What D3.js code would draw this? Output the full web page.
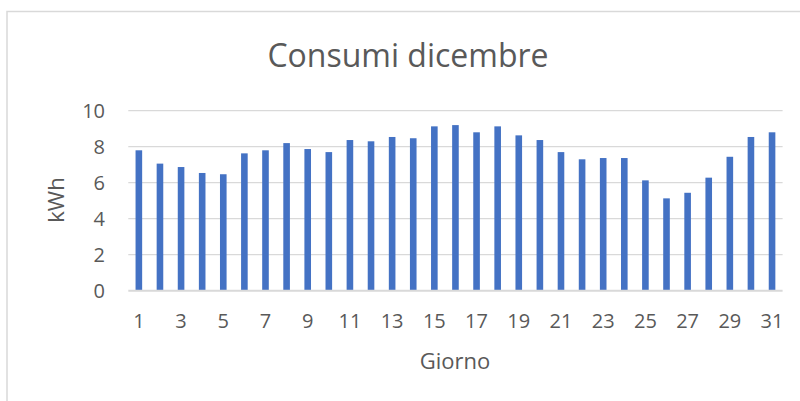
<!DOCTYPE html>
<html>
<head>
<meta charset="utf-8">
<script src="https://cdn.jsdelivr.net/npm/d3@7"></script>
<style>
  html, body { margin: 0; padding: 0; background: #ffffff; }
  svg { display: block; }
  text { font-family: "Open Sans", sans-serif; fill: #595959; }
</style>
</head>
<body>
<svg id="chart" width="800" height="401"></svg>
<script>
const days = d3.range(1, 32);
const values = [7.8, 7.06, 6.87, 6.54, 6.47, 7.63, 7.8, 8.2, 7.87, 7.7,
                8.37, 8.3, 8.54, 8.47, 9.13, 9.2, 8.8, 9.13, 8.63, 8.37,
                7.7, 7.3, 7.37, 7.37, 6.13, 5.13, 5.44, 6.28, 7.44, 8.54, 8.8];
const yTicks = [0, 2, 4, 6, 8, 10];
const xTickLabels = days.filter(d => d % 2 === 1);
const title = "Consumi dicembre";
const xTitle = "Giorno";
const yTitle = "kWh";

const svg = d3.select("#chart");

// chart area border
svg.append("rect")
  .attr("x", 7).attr("y", 11.5)
  .attr("width", 810).attr("height", 410)
  .attr("fill", "none")
  .attr("stroke", "#d9d9d9")
  .attr("stroke-width", 1.5);

const plotLeft = 128.3, plotRight = 782.6, plotTop = 110.7, plotBottom = 290.7;

const x = d3.scaleBand()
  .domain(days)
  .range([plotLeft, plotRight])
  .paddingInner(0.687)
  .paddingOuter(0.687 / 2);

const y = d3.scaleLinear().domain([0, 10]).range([plotBottom, plotTop]);

// gridlines
svg.append("g")
  .selectAll("line")
  .data(yTicks.filter(t => t > 0))
  .join("line")
  .attr("x1", plotLeft).attr("x2", plotRight)
  .attr("y1", d => y(d)).attr("y2", d => y(d))
  .attr("stroke", "#d9d9d9")
  .attr("stroke-width", 1.2);

// bars
svg.append("g")
  .selectAll("rect")
  .data(values)
  .join("rect")
  .attr("x", (d, i) => x(days[i]))
  .attr("width", x.bandwidth())
  .attr("y", d => y(d))
  .attr("height", d => y(0) - y(d))
  .attr("fill", "#4472c4");

// x axis line
svg.append("line")
  .attr("x1", plotLeft).attr("x2", plotRight)
  .attr("y1", y(0)).attr("y2", y(0))
  .attr("stroke", "#d9d9d9")
  .attr("stroke-width", 2);

// y tick labels
svg.append("g")
  .selectAll("text")
  .data(yTicks)
  .join("text")
  .attr("x", 105)
  .attr("y", d => y(d))
  .attr("dy", 7)
  .attr("text-anchor", "end")
  .style("font-size", "20px")
  .text(d => d);

// x tick labels
svg.append("g")
  .selectAll("text")
  .data(xTickLabels)
  .join("text")
  .attr("x", d => x(d) + x.bandwidth() / 2)
  .attr("y", 328)
  .attr("text-anchor", "middle")
  .style("font-size", "20px")
  .text(d => d);

// title
svg.append("text")
  .attr("x", 408).attr("y", 67)
  .attr("text-anchor", "middle")
  .style("font-size", "32px")
  .text(title);

// axis titles
svg.append("text")
  .attr("x", 455).attr("y", 369)
  .attr("text-anchor", "middle")
  .style("font-size", "22px")
  .text(xTitle);

svg.append("text")
  .attr("transform", "translate(64,200) rotate(-90)")
  .attr("text-anchor", "middle")
  .style("font-size", "22px")
  .text(yTitle);
</script>
</body>
</html>
